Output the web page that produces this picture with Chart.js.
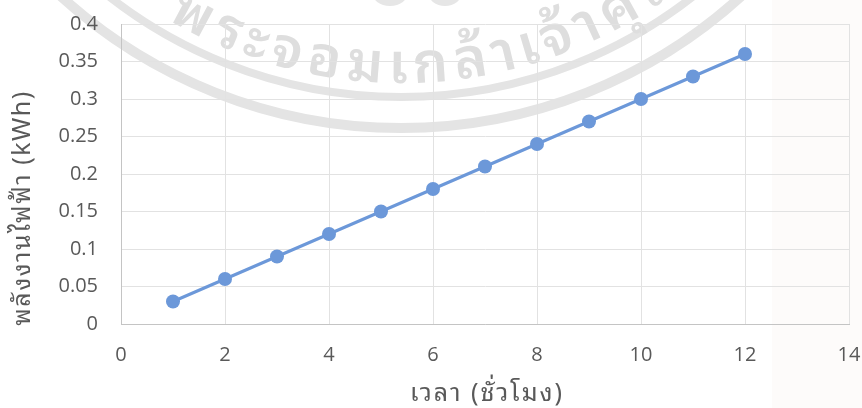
<!DOCTYPE html>
<html>
<head>
<meta charset="utf-8">
<script src="https://cdn.jsdelivr.net/npm/chart.js@4.4.1/dist/chart.umd.min.js"></script>
<style>
  html, body { margin: 0; padding: 0; background: #ffffff; }
  #wrap { width: 862px; height: 408px; position: relative; }
</style>
</head>
<body>
<div id="wrap"><canvas id="chart" width="862" height="408"></canvas></div>
<script>
// Energy used over time
const hours = [1, 2, 3, 4, 5, 6, 7, 8, 9, 10, 11, 12];
const energyKWh = [0.03, 0.06, 0.09, 0.12, 0.15, 0.18, 0.21, 0.24, 0.27, 0.30, 0.33, 0.36];

// Axis ticks and their labels
const xTickValues = [0, 2, 4, 6, 8, 10, 12, 14];
const yTickValues = [0, 0.05, 0.1, 0.15, 0.2, 0.25, 0.3, 0.35, 0.4];
const yTickLabels = ['0', '0.05', '0.1', '0.15', '0.2', '0.25', '0.3', '0.35', '0.4'];

// Titles and seal text
const xTitle = 'เวลา (ชั่วโมง)';
const yTitle = 'พลังงานไฟฟ้า (kWh)';
const sealText = 'พระจอมเกล้าเจ้าคุณ';

const TEXT = '#595959';
const GRID = '#e2e2e2';
const AXIS = '#c4c4c4';
const SERIES = '#6c98d9';
const TICK_FONT = { family: "'Open Sans', 'Noto Sans', sans-serif", size: 20 };
const THAI_FAMILY = "'Noto Sans Thai Looped', 'Noto Sans Thai', 'Noto Sans', 'Open Sans', sans-serif";

const points = hours.map((h, i) => ({ x: h, y: energyKWh[i] }));

function graphemes(str) {
  if (typeof Intl !== 'undefined' && Intl.Segmenter) {
    return Array.from(new Intl.Segmenter('th', { granularity: 'grapheme' }).segment(str), s => s.segment);
  }
  return str.match(/.[\u0E31\u0E34-\u0E3A\u0E47-\u0E4E]*/g) || [];
}

// Faint university seal printed behind the chart
const sealPlugin = {
  id: 'seal',
  beforeDraw(chart) {
    const ctx = chart.ctx;
    const cx = 401, cy = -377;
    ctx.save();
    ctx.fillStyle = '#ffffff';
    ctx.fillRect(0, 0, chart.width, chart.height);

    // faint warm tint on the right margin
    ctx.fillStyle = 'rgba(236, 214, 206, 0.10)';
    ctx.fillRect(772, 0, chart.width - 772, chart.height);

    ctx.strokeStyle = '#e4e4e4';
    ctx.lineWidth = 8;
    ctx.beginPath(); ctx.arc(cx, cy, 474, 0, Math.PI * 2); ctx.stroke();
    ctx.lineWidth = 10;
    ctx.beginPath(); ctx.arc(cx, cy, 505, 0, Math.PI * 2); ctx.stroke();

    ctx.fillStyle = '#e6e6e6';
    ctx.beginPath(); ctx.ellipse(390, -8, 18, 14, 0, 0, Math.PI * 2); ctx.fill();
    ctx.beginPath(); ctx.ellipse(445, -8, 17, 14, 0, 0, Math.PI * 2); ctx.fill();

    // seal lettering along the lower arc
    ctx.font = '600 56px ' + THAI_FAMILY;
    ctx.fillStyle = '#dedede';
    ctx.textAlign = 'center';
    ctx.textBaseline = 'alphabetic';
    const parts = graphemes(sealText);
    const widths = parts.map(p => ctx.measureText(p).width);
    const span = widths.reduce((a, b) => a + b, 0) - widths[0] / 2 - widths[widths.length - 1] / 2;
    const a0 = 118 * Math.PI / 180, a1 = 54 * Math.PI / 180;
    const rBase = 460;
    let acc = 0;
    parts.forEach((p, i) => {
      const t = i === 0 ? 0 : (acc + widths[i] / 2 - widths[0] / 2) / span;
      const ang = a0 + (a1 - a0) * t;
      ctx.save();
      ctx.translate(cx + rBase * Math.cos(ang), cy + rBase * Math.sin(ang));
      ctx.rotate(ang - Math.PI / 2);
      ctx.fillText(p, 0, 0);
      ctx.restore();
      acc += widths[i];
    });
    ctx.restore();
  }
};

// Axis titles: the vertical one is centred on the full chart height
const titlesPlugin = {
  id: 'axisTitles',
  afterDraw(chart) {
    const ctx = chart.ctx;
    const area = chart.chartArea;
    ctx.save();
    ctx.fillStyle = TEXT;
    ctx.textAlign = 'center';
    ctx.textBaseline = 'middle';

    ctx.font = '25px ' + THAI_FAMILY;
    ctx.letterSpacing = '2px';
    ctx.fillText(xTitle, (area.left + area.right) / 2 + 2, 394);

    ctx.translate(23, 208);
    ctx.rotate(-Math.PI / 2);
    ctx.font = '25px ' + THAI_FAMILY;
    ctx.letterSpacing = '1.5px';
    ctx.fillText(yTitle, 0, 0);
    ctx.restore();
  }
};

new Chart(document.getElementById('chart'), {
  type: 'scatter',
  data: {
    datasets: [{
      data: points,
      showLine: true,
      borderColor: SERIES,
      backgroundColor: SERIES,
      borderWidth: 3,
      pointRadius: 7,
      pointHoverRadius: 7,
      pointBorderWidth: 0,
      tension: 0
    }]
  },
  options: {
    responsive: false,
    animation: false,
    devicePixelRatio: 1,
    layout: { padding: 0 },
    plugins: { legend: { display: false }, tooltip: { enabled: false } },
    scales: {
      x: {
        type: 'linear',
        min: 0, max: 14,
        afterBuildTicks: s => { s.ticks = xTickValues.map(v => ({ value: v })); },
        afterFit: s => { s.height = 84; s.paddingRight = 13; s.paddingLeft = 0; },
        ticks: { color: TEXT, font: TICK_FONT, padding: 19, maxRotation: 0,
                 callback: v => String(v) },
        grid: { color: GRID, lineWidth: 1, drawTicks: false },
        border: { color: AXIS, width: 1 }
      },
      y: {
        type: 'linear',
        min: 0, max: 0.4,
        afterBuildTicks: s => { s.ticks = yTickValues.map(v => ({ value: v })); },
        afterFit: s => { s.width = 121; s.paddingTop = 24; s.paddingBottom = 0; },
        ticks: { color: TEXT, font: TICK_FONT, padding: 23,
                 callback: (v, i) => yTickLabels[i] },
        grid: { color: GRID, lineWidth: 1, drawTicks: false },
        border: { color: AXIS, width: 1 }
      }
    }
  },
  plugins: [sealPlugin, titlesPlugin]
});
</script>
</body>
</html>
